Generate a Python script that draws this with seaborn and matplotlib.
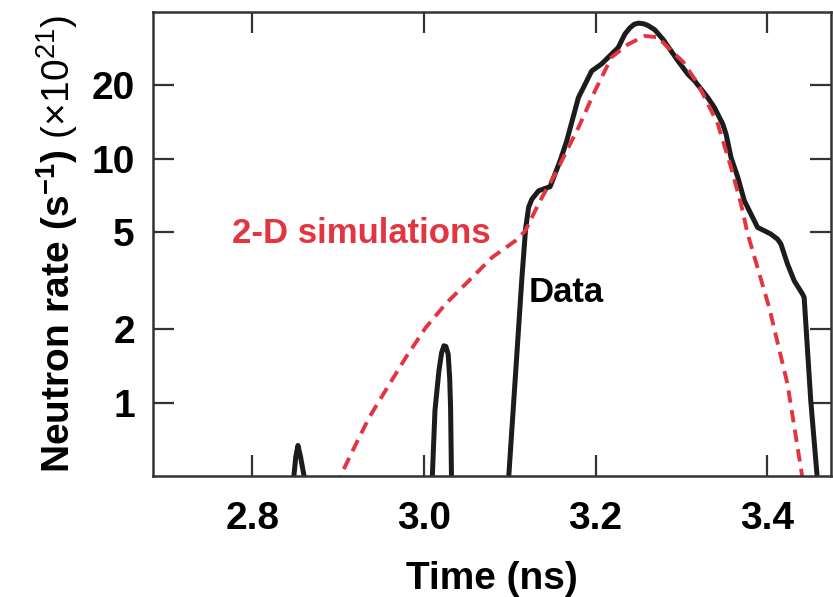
import numpy as np
import pandas as pd
import matplotlib
matplotlib.use("Agg")
import matplotlib.pyplot as plt
import seaborn as sns

# measured neutron rate (x1e21 /s), three separate pieces
spike1_t = [2.847, 2.8505, 2.853, 2.856, 2.8625]
spike1_rate = [0.45, 0.60, 0.667, 0.60, 0.45]

spike2_t = [3.0092, 3.0128, 3.0174, 3.0205, 3.0232, 3.0255, 3.0282, 3.0300, 3.0310, 3.0322]
spike2_rate = [0.45, 0.93, 1.35, 1.60, 1.71, 1.70, 1.58, 1.25, 0.95, 0.45]

main_t = [3.0980, 3.1065, 3.1142, 3.1185, 3.1220, 3.1258, 3.1336, 3.1471,
          3.1588, 3.1665, 3.1800, 3.1955, 3.2071, 3.2265, 3.2343, 3.2400, 3.2450,
          3.2500, 3.2560, 3.2613, 3.2691, 3.2787, 3.2962, 3.3078, 3.3155, 3.3310, 3.3388,
          3.3484, 3.3523, 3.3581, 3.3659, 3.3736, 3.3813, 3.3890, 3.3968, 3.4045,
          3.4123, 3.4162, 3.4239, 3.4317, 3.4413, 3.4433, 3.4510, 3.4595]
main_rate = [0.45, 1.27, 3.26, 5.17, 6.33, 6.83, 7.39, 7.69,
             9.83, 11.86, 17.8, 22.9, 24.5, 28.6, 32.5, 34.4, 35.6,
             36.0, 35.8, 35.2, 33.8, 30.9, 25.2, 22.2, 20.9, 17.8, 16.2,
             13.88, 12.6, 10.1, 8.4, 6.72, 5.93, 5.23, 5.07, 4.91,
             4.68, 4.47, 3.70, 3.16, 2.79, 2.70, 1.02, 0.45]

# 2-D simulation
sim_t = [2.8970, 2.9013, 2.9207, 2.9361, 2.9574, 2.9787, 3.0020, 3.0252, 3.0523,
         3.0794, 3.1065, 3.1181, 3.1297, 3.1374, 3.1530, 3.1723, 3.1800, 3.1994,
         3.2187, 3.2381, 3.2575, 3.2729, 3.2807, 3.3020, 3.3194, 3.3426, 3.3581,
         3.3697, 3.3775, 3.4026, 3.4239, 3.4430]
sim_rate = [0.45, 0.49, 0.677, 0.87, 1.155, 1.53, 2.03, 2.54, 3.16,
            3.94, 4.61, 5.06, 6.13, 6.93, 8.66, 11.86, 13.4, 19.0,
            26.1, 29.5, 31.9, 31.5, 29.5, 25.0, 20.3, 13.9, 9.2,
            6.52, 4.91, 2.45, 1.19, 0.45]

y_ticks = [1, 2, 5, 10, 20]
x_ticks = [2.8, 3.0, 3.2, 3.4]

data = pd.concat([
    pd.DataFrame({"time": spike1_t, "rate": spike1_rate, "seg": 0}),
    pd.DataFrame({"time": spike2_t, "rate": spike2_rate, "seg": 1}),
    pd.DataFrame({"time": main_t, "rate": main_rate, "seg": 2}),
])
sim = pd.DataFrame({"time": sim_t, "rate": sim_rate})

sns.set_theme(style="ticks")
plt.rcParams['font.family'] = ['Liberation Sans', 'DejaVu Sans']
plt.rcParams['font.weight'] = 'bold'
plt.rcParams['text.color'] = 'black'
plt.rcParams['axes.labelcolor'] = 'black'
plt.rcParams['xtick.labelcolor'] = 'black'
plt.rcParams['ytick.labelcolor'] = 'black'
plt.rcParams['mathtext.fontset'] = 'custom'
plt.rcParams['mathtext.rm'] = 'Liberation Sans:weight=normal'
plt.rcParams['mathtext.bf'] = 'Liberation Sans:weight=bold'
plt.rcParams['mathtext.it'] = 'Liberation Sans:italic'

fig = plt.figure(figsize=(8.33, 5.97), dpi=100)
ax = fig.add_axes([0.1837, 0.2027, 0.8143, 0.7772])

sns.lineplot(data=data, x="time", y="rate", units="seg", estimator=None, sort=False,
             color="#1c1c1c", lw=3.6, ax=ax)
sns.lineplot(data=sim, x="time", y="rate", estimator=None, sort=False,
             color="#e2353f", lw=2.8, linestyle=(0, (3.2, 1.9)), ax=ax)

ax.set_yscale("log")
ax.set_ylim(0.5, 40)
ax.set_xlim(2.684, 3.475)
ax.set_yticks(y_ticks)
ax.set_yticklabels([str(v) for v in y_ticks])
ax.yaxis.set_minor_locator(matplotlib.ticker.NullLocator())
ax.set_xticks(x_ticks)
ax.set_xticklabels([f"{v:.1f}" for v in x_ticks])

ax.tick_params(direction="in", length=15, width=1.6, top=True, right=True,
               labelsize=28, color="#333333")
ax.tick_params(axis="y", pad=13)
ax.tick_params(axis="x", pad=18)
for sp in ax.spines.values():
    sp.set_linewidth(1.8)
    sp.set_color("#333333")

ax.set_xlabel("Time (ns)", fontsize=28, fontweight="bold", labelpad=17)
ax.set_ylabel(r"$\mathbf{Neutron\ rate\ (s^{-1})}\ (\times 10^{21})$", fontsize=28, labelpad=8)

ax.text(2.776, 4.93, "2-D simulations", color="#e2353f", fontsize=25,
        fontweight="bold", ha="left", va="center")
ax.text(3.122, 2.83, "Data", color="black", fontsize=25,
        fontweight="bold", ha="left", va="center")

fig.savefig("out.png", dpi=100)
